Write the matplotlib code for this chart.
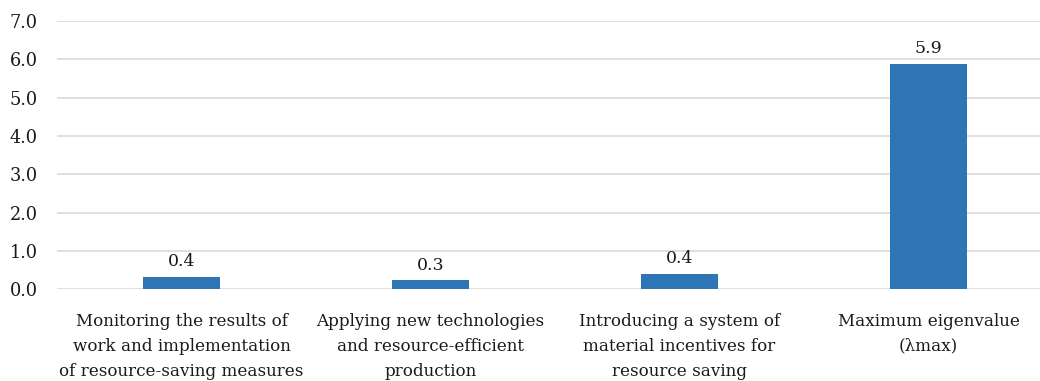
import matplotlib
matplotlib.use("Agg")
import matplotlib.pyplot as plt
import numpy as np

# chart data
categories = [
    "Monitoring the results of\nwork and implementation\nof resource-saving measures",
    "Applying new technologies\nand resource-efficient\nproduction",
    "Introducing a system of\nmaterial incentives for\nresource saving",
    "Maximum eigenvalue\n(\u03bbmax)",
]
values = [0.33, 0.24, 0.40, 5.89]
value_labels = ["0.4", "0.3", "0.4", "5.9"]
y_ticks = [0, 1, 2, 3, 4, 5, 6, 7]

plt.rcParams['font.family'] = ['DejaVu Serif']

fig = plt.figure(figsize=(10.4, 3.81), dpi=100)
# axes placed by pixel: left 57, right 1040, bottom y=289, top y=21
ax = fig.add_axes([57/1040, (381-289.3)/381, (1040-57)/1040, (289.3-21)/381])

x = np.arange(len(categories))
ax.bar(x, values, width=0.31, color='#2e75b6', zorder=3)

for xi, v, lab in zip(x, values, value_labels):
    ax.text(xi, v + 0.17, lab, ha='center', va='bottom', fontsize=12.5, color='#1a1a1a')

ax.set_ylim(0, 7)
ax.set_xlim(-0.5, (1040-181.5)/249 )
ax.set_yticks(y_ticks)
ax.set_yticklabels(["%.1f" % t for t in y_ticks], fontsize=12.8, color='#1a1a1a')
ax.set_xticks(x)
ax.set_xticklabels(categories, fontsize=12.1, color='#1a1a1a', linespacing=1.6)

ax.yaxis.grid(True, color='#d9d9d9', linewidth=1.2, zorder=0)
for s in ['top', 'right', 'left', 'bottom']:
    ax.spines[s].set_visible(False)
ax.tick_params(axis='both', length=0)
ax.tick_params(axis='y', pad=14)
ax.tick_params(axis='x', pad=17)

fig.savefig("out.png", dpi=100)
